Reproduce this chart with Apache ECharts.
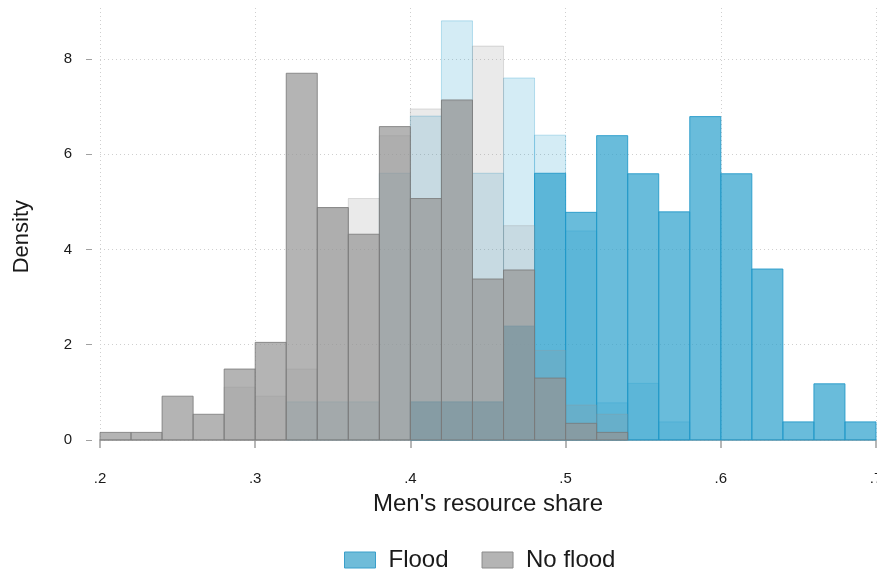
<!DOCTYPE html>
<html>
<head>
<meta charset="utf-8">
<script src="https://cdn.jsdelivr.net/npm/echarts@6/dist/echarts.min.js"></script>
<style>
  html, body { margin: 0; padding: 0; background: #fff; }
  #chart { width: 877px; height: 573px; }
</style>
</head>
<body>
<div id="chart"></div>
<script>
// Bin edges (men's resource share), width 0.02
const binEdges = [0.20, 0.22, 0.24, 0.26, 0.28, 0.30, 0.32, 0.34, 0.36, 0.38, 0.40, 0.42, 0.44,
                  0.46, 0.48, 0.50, 0.52, 0.54, 0.56, 0.58, 0.60, 0.62, 0.64, 0.66, 0.68, 0.70];

// Densities per bin
const floodDensity = [0, 0, 0, 0, 0, 0, 0, 0, 0, 0, 0.80, 0.80, 0.80,
                      2.39, 5.60, 4.78, 6.39, 5.59, 4.79, 6.79, 5.59, 3.59, 0.38, 1.18, 0.38];
const floodLightDensity = [0, 0, 0, 0, 0, 0, 0.80, 0.80, 0.80, 5.60, 6.80, 8.80, 5.60,
                           7.60, 6.40, 4.39, 0.78, 1.19, 0.38, 0, 0, 0, 0, 0, 0];
const noFloodDensity = [0.16, 0.16, 0.92, 0.54, 1.49, 2.05, 7.70, 4.88, 4.32, 6.58, 5.07, 7.14, 3.38,
                        3.57, 1.30, 0.35, 0.16, 0, 0, 0, 0, 0, 0, 0, 0];
const noFloodLightDensity = [0, 0, 0, 0, 1.11, 0.92, 1.49, 4.88, 5.07, 6.39, 6.95, 7.12, 8.27,
                             4.50, 1.88, 0.735, 0.54, 0, 0, 0, 0, 0, 0, 0, 0];

const xTicks = [0.2, 0.3, 0.4, 0.5, 0.6, 0.7];
const yTicks = [0, 2, 4, 6, 8];

const FONT = '"Liberation Sans", Arial, sans-serif';

function toData(vals) {
  const out = [];
  vals.forEach((v, i) => { if (v > 0) out.push([binEdges[i], binEdges[i + 1], v]); });
  return out;
}

function histSeries(name, vals, fill, stroke) {
  return {
    name: name,
    type: 'custom',
    data: toData(vals),
    encode: { x: [0, 1], y: 2 },
    itemStyle: { color: fill, borderColor: stroke, borderWidth: 1 },
    renderItem: function (params, api) {
      const p0 = api.coord([api.value(0), api.value(2)]);
      const p1 = api.coord([api.value(1), 0]);
      return {
        type: 'rect',
        shape: { x: p0[0], y: p0[1], width: p1[0] - p0[0], height: p1[1] - p0[1] },
        style: { fill: fill, stroke: stroke, lineWidth: 1 }
      };
    }
  };
}

const chart = echarts.init(document.getElementById('chart'), null, { renderer: 'canvas' });

chart.setOption({
  animation: false,
  backgroundColor: '#ffffff',
  textStyle: { fontFamily: FONT },
  grid: { left: 100, right: 1, top: 8, bottom: 133, containLabel: false, outerBoundsMode: 'none' },
  legend: {
    left: 344, top: 548, padding: 0,
    itemWidth: 31, itemHeight: 16, itemGap: 33,
    icon: 'rect',
    textStyle: { fontFamily: FONT, fontSize: 24, color: '#1a1a1a', padding: [0, 0, 0, 8] },
    data: [
      { name: 'Flood', itemStyle: { color: '#6fbcd9', borderColor: '#3a9fca', borderWidth: 1 } },
      { name: 'No flood', itemStyle: { color: '#b4b4b4', borderColor: '#8c8c8c', borderWidth: 1 } }
    ]
  },
  graphic: [{
    type: 'text', left: 11, top: 200, rotation: Math.PI / 2,
    style: { text: 'Density', fontFamily: FONT, fontSize: 22, fill: '#1a1a1a' }
  }],
  xAxis: {
    type: 'value', min: 0.2, max: 0.7, interval: 0.1,
    offset: 14,
    name: "Men's resource share",
    nameLocation: 'middle', nameGap: 38,
    nameTextStyle: { fontFamily: FONT, fontSize: 24, color: '#1a1a1a' },
    axisLine: { show: true, lineStyle: { color: '#a0a0a0', width: 1.5 } },
    axisTick: { show: true, length: 8, lineStyle: { color: '#a0a0a0', width: 1.5 } },
    axisLabel: {
      fontFamily: FONT, fontSize: 15, color: '#1a1a1a', margin: 17,
      formatter: function (v) { return '.' + Math.round(v * 10); }
    },
    splitLine: { show: true, lineStyle: { color: '#cfcfcf', width: 1, type: [1, 3] } }
  },
  yAxis: {
    type: 'value', min: 0, max: 9.07, interval: 2,
    offset: 8,
    axisLine: { show: false },
    axisTick: { show: true, length: 6, lineStyle: { color: '#a0a0a0', width: 1 } },
    axisLabel: { fontFamily: FONT, fontSize: 15, color: '#1a1a1a', margin: 20, showMaxLabel: false,
      formatter: function (v) { return yTicks.indexOf(v) >= 0 ? String(v) : ''; } },
    splitLine: { show: true, showMaxLine: false, lineStyle: { color: '#cfcfcf', width: 1, type: [1, 3] } }
  },
  series: [
    histSeries('Flood (light)', floodLightDensity, 'rgba(42,159,204,0.2)', 'rgba(42,159,204,0.3)'),
    histSeries('Flood', floodDensity, 'rgba(42,159,204,0.7)', 'rgba(30,150,200,0.85)'),
    histSeries('No flood (light)', noFloodLightDensity, 'rgba(148,148,148,0.2)', 'rgba(148,148,148,0.3)'),
    histSeries('No flood', noFloodDensity, 'rgba(148,148,148,0.7)', 'rgba(120,120,120,0.8)')
  ]
});
</script>
</body>
</html>
